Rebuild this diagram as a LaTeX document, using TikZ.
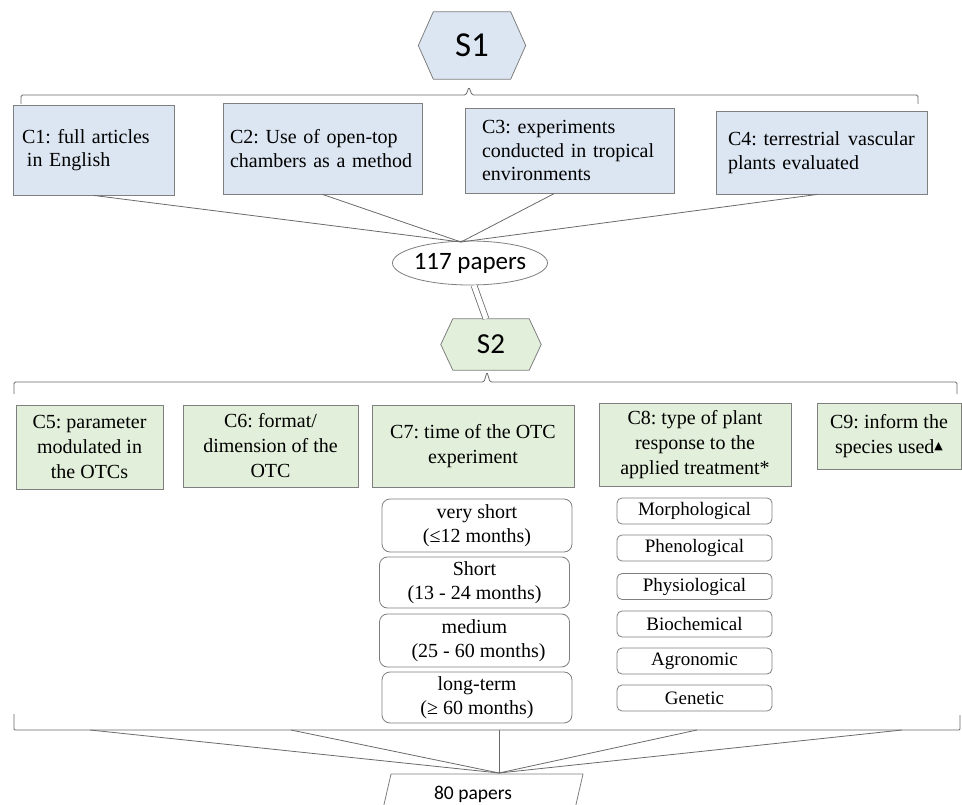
\documentclass[tikz,border=0pt]{standalone}
\usepackage{fontspec}
\setmainfont{Liberation Serif}
\newfontfamily\calibri{Carlito}
\newfontfamily\dejavu{DejaVu Sans}
\usetikzlibrary{calc,shapes.geometric,backgrounds}
\definecolor{bluefill}{HTML}{DCE6F2}
\definecolor{greenfill}{HTML}{E2EFDA}
\definecolor{edgec}{HTML}{7F7F7F}
\definecolor{lnc}{HTML}{6A6A6A}
\frenchspacing
\hyphenpenalty=10000
\exhyphenpenalty=10000
\tikzset{
  ln/.style={draw=lnc, line width=0.8pt},
  bluebox/.style={draw=edgec, fill=bluefill, line width=0.8pt, align=left, inner ysep=0pt,
    font=\fontsize{20}{23.5}\selectfont},
  greenbox/.style={draw=edgec, fill=greenfill, line width=0.8pt, align=center, inner sep=0pt,
    font=\fontsize{20}{25}\selectfont},
  rbox/.style={draw=edgec, fill=white, rounded corners=8pt, line width=0.8pt, align=center,
    inner sep=0pt, minimum width=190pt, font=\fontsize{20}{24}\selectfont},
  sbox/.style={draw=edgec, fill=white, rounded corners=5pt, line width=0.8pt, align=center,
    inner sep=0pt, minimum width=155pt, minimum height=26pt, font=\fontsize{19}{22}\selectfont},
  hexlabel/.style={inner sep=0pt},
  hexshape/.style={draw=edgec, line width=0.8pt},
}
\begin{document}
\frenchspacing
\begin{tikzpicture}[x=1pt,y=-1pt]
\useasboundingbox (0,0) rectangle (962,805);

% ---------- S1 ----------
\node[hexlabel, minimum width=77pt, minimum height=67pt, font=\calibri\fontsize{35}{35}\selectfont] (s1) at (472,45.5) {S1};
\begin{scope}[on background layer]
\filldraw[hexshape, fill=bluefill] (s1.north west) -- (s1.north east) -- ($(s1.east)+(15,0)$)
  -- (s1.south east) -- (s1.south west) -- ($(s1.west)+(-15,0)$) -- cycle;
\end{scope}

% top brace
\coordinate (b1l) at (21,104);
\coordinate (b1r) at (918,104);
\draw[ln, rounded corners=1.5pt] (b1l) -- (21,95) -- (466,95) -- (469,87) -- (472,95) -- (918,95) -- (b1r);

% ---------- C1..C4 ----------
\node[bluebox, minimum width=161pt, minimum height=90pt, inner xsep=9pt, text width=143pt] (c1) at (93.5,150)
  {C1: full articles\\\hspace*{5pt}in English};
\node[bluebox, minimum width=199pt, minimum height=91pt, inner xsep=7pt, text width=185pt] (c2) at (322.5,148.5)
  {C2: Use of open-top\\chambers as a method};
\node[bluebox, minimum width=209pt, minimum height=85pt, inner xsep=17pt, text width=175pt] (c3) at (569.5,150.5)
  {C3: experiments\\conducted in tropical\\environments};
\node[bluebox, minimum width=211pt, minimum height=83pt, inner xsep=12pt, text width=187pt] (c4) at (821.5,152.5)
  {C4: terrestrial\hspace{0.4em}vascular\\plants evaluated};

% ---------- 117 papers ----------
\node[ellipse, draw=edgec, fill=white, line width=0.8pt, minimum width=155pt, minimum height=44pt, inner sep=0pt,
  font=\calibri\fontsize{25}{25}\selectfont] (p117) at (470,263) {\makebox[0pt]{117 papers}};
\coordinate (j1) at (461,242);
\draw[ln] (c1.south) -- (j1);
\draw[ln] (c2.south) -- (j1);
\draw[ln] ($(c3.south)+(-15,0)$) -- (j1);
\draw[ln] ($(c4.south)+(-4,0)$) -- (j1);

% ---------- S2 ----------
\node[hexlabel, minimum width=76pt, minimum height=51pt, font=\calibri\fontsize{29}{29}\selectfont] (s2) at (491,344.5) {S2};
\begin{scope}[on background layer]
\filldraw[hexshape, fill=greenfill] (s2.north west) -- (s2.north east) -- ($(s2.east)+(12,0)$)
  -- (s2.south east) -- (s2.south west) -- ($(s2.west)+(-12,0)$) -- cycle;
\end{scope}
\draw[ln, double=white, double distance=5pt] ($(p117.south)+(4,0)$) -- ($(s2.north)+(-5,0)$);

% second brace
\coordinate (b2l) at (14,394);
\coordinate (b2r) at (957,394);
\draw[ln, rounded corners=1.5pt] (b2l) -- (14,382) -- (484,382) -- (487,372) -- (490,382) -- (957,382) -- (b2r);

% ---------- C5..C9 ----------
\node[greenbox, minimum width=147pt, minimum height=84pt] (c5) at (89.5,447)
  {C5: parameter\\modulated in\\the OTCs};
\node[greenbox, minimum width=175pt, minimum height=82pt] (c6) at (270.5,446)
  {C6: format/\\dimension of the\\OTC};
\node[greenbox, minimum width=202pt, minimum height=82pt] (c7) at (473,446)
  {C7: time of the OTC\\experiment};
\node[greenbox, minimum width=192pt, minimum height=83pt] (c8) at (695,444.5)
  {C8: type of plant\\response to the\\applied treatment*};
\node[greenbox, minimum width=144pt, minimum height=66pt] (c9) at (889,436)
  {C9: inform the\\species used\raisebox{4pt}{\dejavu\fontsize{11}{11}\selectfont ▲}};

% ---------- C7 sub boxes ----------
\node[rbox, minimum height=53pt] (t1) at (477,525.5) {very short\\(≤12 months)};
\node[rbox, minimum height=51pt] (t2) at (474.5,582.5) {Short\\(13 - 24 months)};
\node[rbox, minimum height=53pt] (t3) at (474.5,640.5) {medium\\\hspace*{8pt}(25 - 60 months)};
\node[rbox, minimum height=51pt] (t4) at (477,697.5) {long-term\\(≥ 60 months)};

% ---------- C8 sub boxes ----------
\node[sbox] (r1) at (694.5,511) {Morphological};
\node[sbox] (r2) at (694.5,548) {Phenological};
\node[sbox] (r3) at (694.5,586.5) {Physiological};
\node[sbox] (r4) at (694.5,624) {Biochemical};
\node[sbox] (r5) at (694.5,661) {Agronomic};
\node[sbox] (r6) at (694.5,698) {Genetic};

% ---------- bottom brace ----------
\coordinate (b3l) at (14,714);
\coordinate (b3r) at (960,715);
\draw[ln, rounded corners=1pt] (b3l) -- (14,730) -- (960,730) -- (b3r);
\coordinate (k1) at (90,730);
\coordinate (k2) at (291,730);
\coordinate (k3) at (499,730);
\coordinate (k4) at (697,730);
\coordinate (k5) at (902,730);
\coordinate (j2) at (499,773);

% ---------- 80 papers ----------
\coordinate (q1) at (391,774);
\coordinate (q2) at (583,774);
\coordinate (q3) at (569,835);
\coordinate (q4) at (377,835);
\filldraw[draw=edgec, fill=white, line width=0.8pt] (q1) -- (q2) -- (q3) -- (q4) -- cycle;
\node[inner sep=0pt, font=\calibri\fontsize{19.5}{20}\selectfont] (p80) at (473,794) {80 papers};

\foreach \k in {k1,k2,k3,k4,k5} { \draw[ln] (\k) -- (j2); }
\end{tikzpicture}
\end{document}
